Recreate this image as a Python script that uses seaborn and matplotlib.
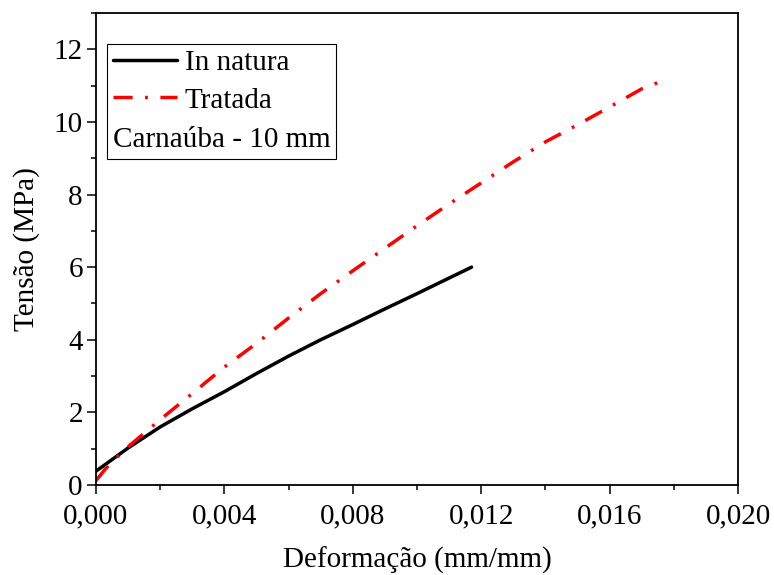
import matplotlib
matplotlib.use("Agg")
import matplotlib.pyplot as plt
from matplotlib.ticker import MultipleLocator, FuncFormatter
from matplotlib.lines import Line2D
import seaborn as sns
import numpy as np
import pandas as pd

# ---- data ----
natura_x = [0.0, 0.001, 0.002, 0.003, 0.004, 0.005, 0.006, 0.007, 0.008, 0.009, 0.010, 0.011, 0.0117]
natura_y = [0.38, 1.02, 1.60, 2.10, 2.57, 3.07, 3.55, 4.00, 4.42, 4.85, 5.27, 5.70, 6.00]

tratada_x = [0.0, 0.0003, 0.0009, 0.0014, 0.002, 0.003, 0.004, 0.005, 0.006, 0.007, 0.008,
             0.009, 0.010, 0.011, 0.012, 0.013, 0.014, 0.015, 0.016, 0.017, 0.0177]
tratada_y = [0.12, 0.45, 0.98, 1.35, 1.80, 2.52, 3.25, 3.90, 4.60, 5.27, 5.90,
             6.52, 7.14, 7.74, 8.32, 8.90, 9.45, 9.92, 10.41, 10.91, 11.15]

series_labels = ["In natura", "Tratada"]
legend_note = "Carnaúba - 10 mm"
x_label = "Deformação (mm/mm)"
y_label = "Tensão (MPa)"

FS = 21

sns.set_style("ticks")
plt.rcParams["font.family"] = ["Liberation Serif", "DejaVu Serif"]
plt.rcParams["text.color"] = "black"
plt.rcParams["axes.labelcolor"] = "black"
plt.rcParams["xtick.color"] = "black"
plt.rcParams["ytick.color"] = "black"

fig = plt.figure(figsize=(7.74, 5.75), dpi=100)
ax = fig.add_axes([0.124, 0.1565, 0.8295, 0.8209])

df_n = pd.DataFrame({"x": natura_x, "y": natura_y})
df_t = pd.DataFrame({"x": tratada_x, "y": tratada_y})

LW = 2.5
DASH = [5.5, 3.6, 0.8, 3.6]
sns.lineplot(data=df_n, x="x", y="y", ax=ax, color="black", linewidth=LW,
             estimator=None, sort=False)
sns.lineplot(data=df_t, x="x", y="y", ax=ax, color="#ff0000", linewidth=LW,
             estimator=None, sort=False)
ax.lines[1].set_dashes(DASH)

ax.set_xlim(0, 0.020)
ax.set_ylim(0, 13)
ax.xaxis.set_major_locator(MultipleLocator(0.004))
ax.xaxis.set_minor_locator(MultipleLocator(0.002))
ax.yaxis.set_major_locator(MultipleLocator(2))
ax.yaxis.set_minor_locator(MultipleLocator(1))
ax.xaxis.set_major_formatter(FuncFormatter(lambda v, p: f"{v:.3f}".replace(".", ",")))
ax.yaxis.set_major_formatter(FuncFormatter(lambda v, p: f"{v:.0f}"))

ax.tick_params(axis="both", which="major", direction="out", length=6.5, width=1.1,
               labelsize=FS, colors="black")
ax.tick_params(axis="x", which="major", pad=6.5)
ax.tick_params(axis="y", which="major", pad=3)
ax.tick_params(axis="both", which="minor", direction="out", length=3.3, width=1.1)
for s in ax.spines.values():
    s.set_visible(True)
    s.set_linewidth(1.3)
    s.set_color("black")

ax.set_xlabel(x_label, fontsize=FS, labelpad=13)
ax.set_ylabel(y_label, fontsize=FS, labelpad=10)

handles = [Line2D([], [], color="black", linewidth=LW),
           Line2D([], [], color="#ff0000", linewidth=LW, dashes=DASH)]
leg = ax.legend(handles, series_labels, loc="upper left", bbox_to_anchor=(0.017, 0.934),
                borderaxespad=0, fontsize=FS, title=legend_note, title_fontsize=FS,
                alignment="left", frameon=True, fancybox=False, framealpha=1,
                edgecolor="black", handlelength=2.2, handletextpad=0.27,
                borderpad=0.2, labelspacing=0.37)
leg.get_frame().set_linewidth(0.8)
# put the note below the entries
leg._legend_box._children.reverse()
leg._legend_box.sep = 9.5

fig.savefig("out.png", dpi=100)
